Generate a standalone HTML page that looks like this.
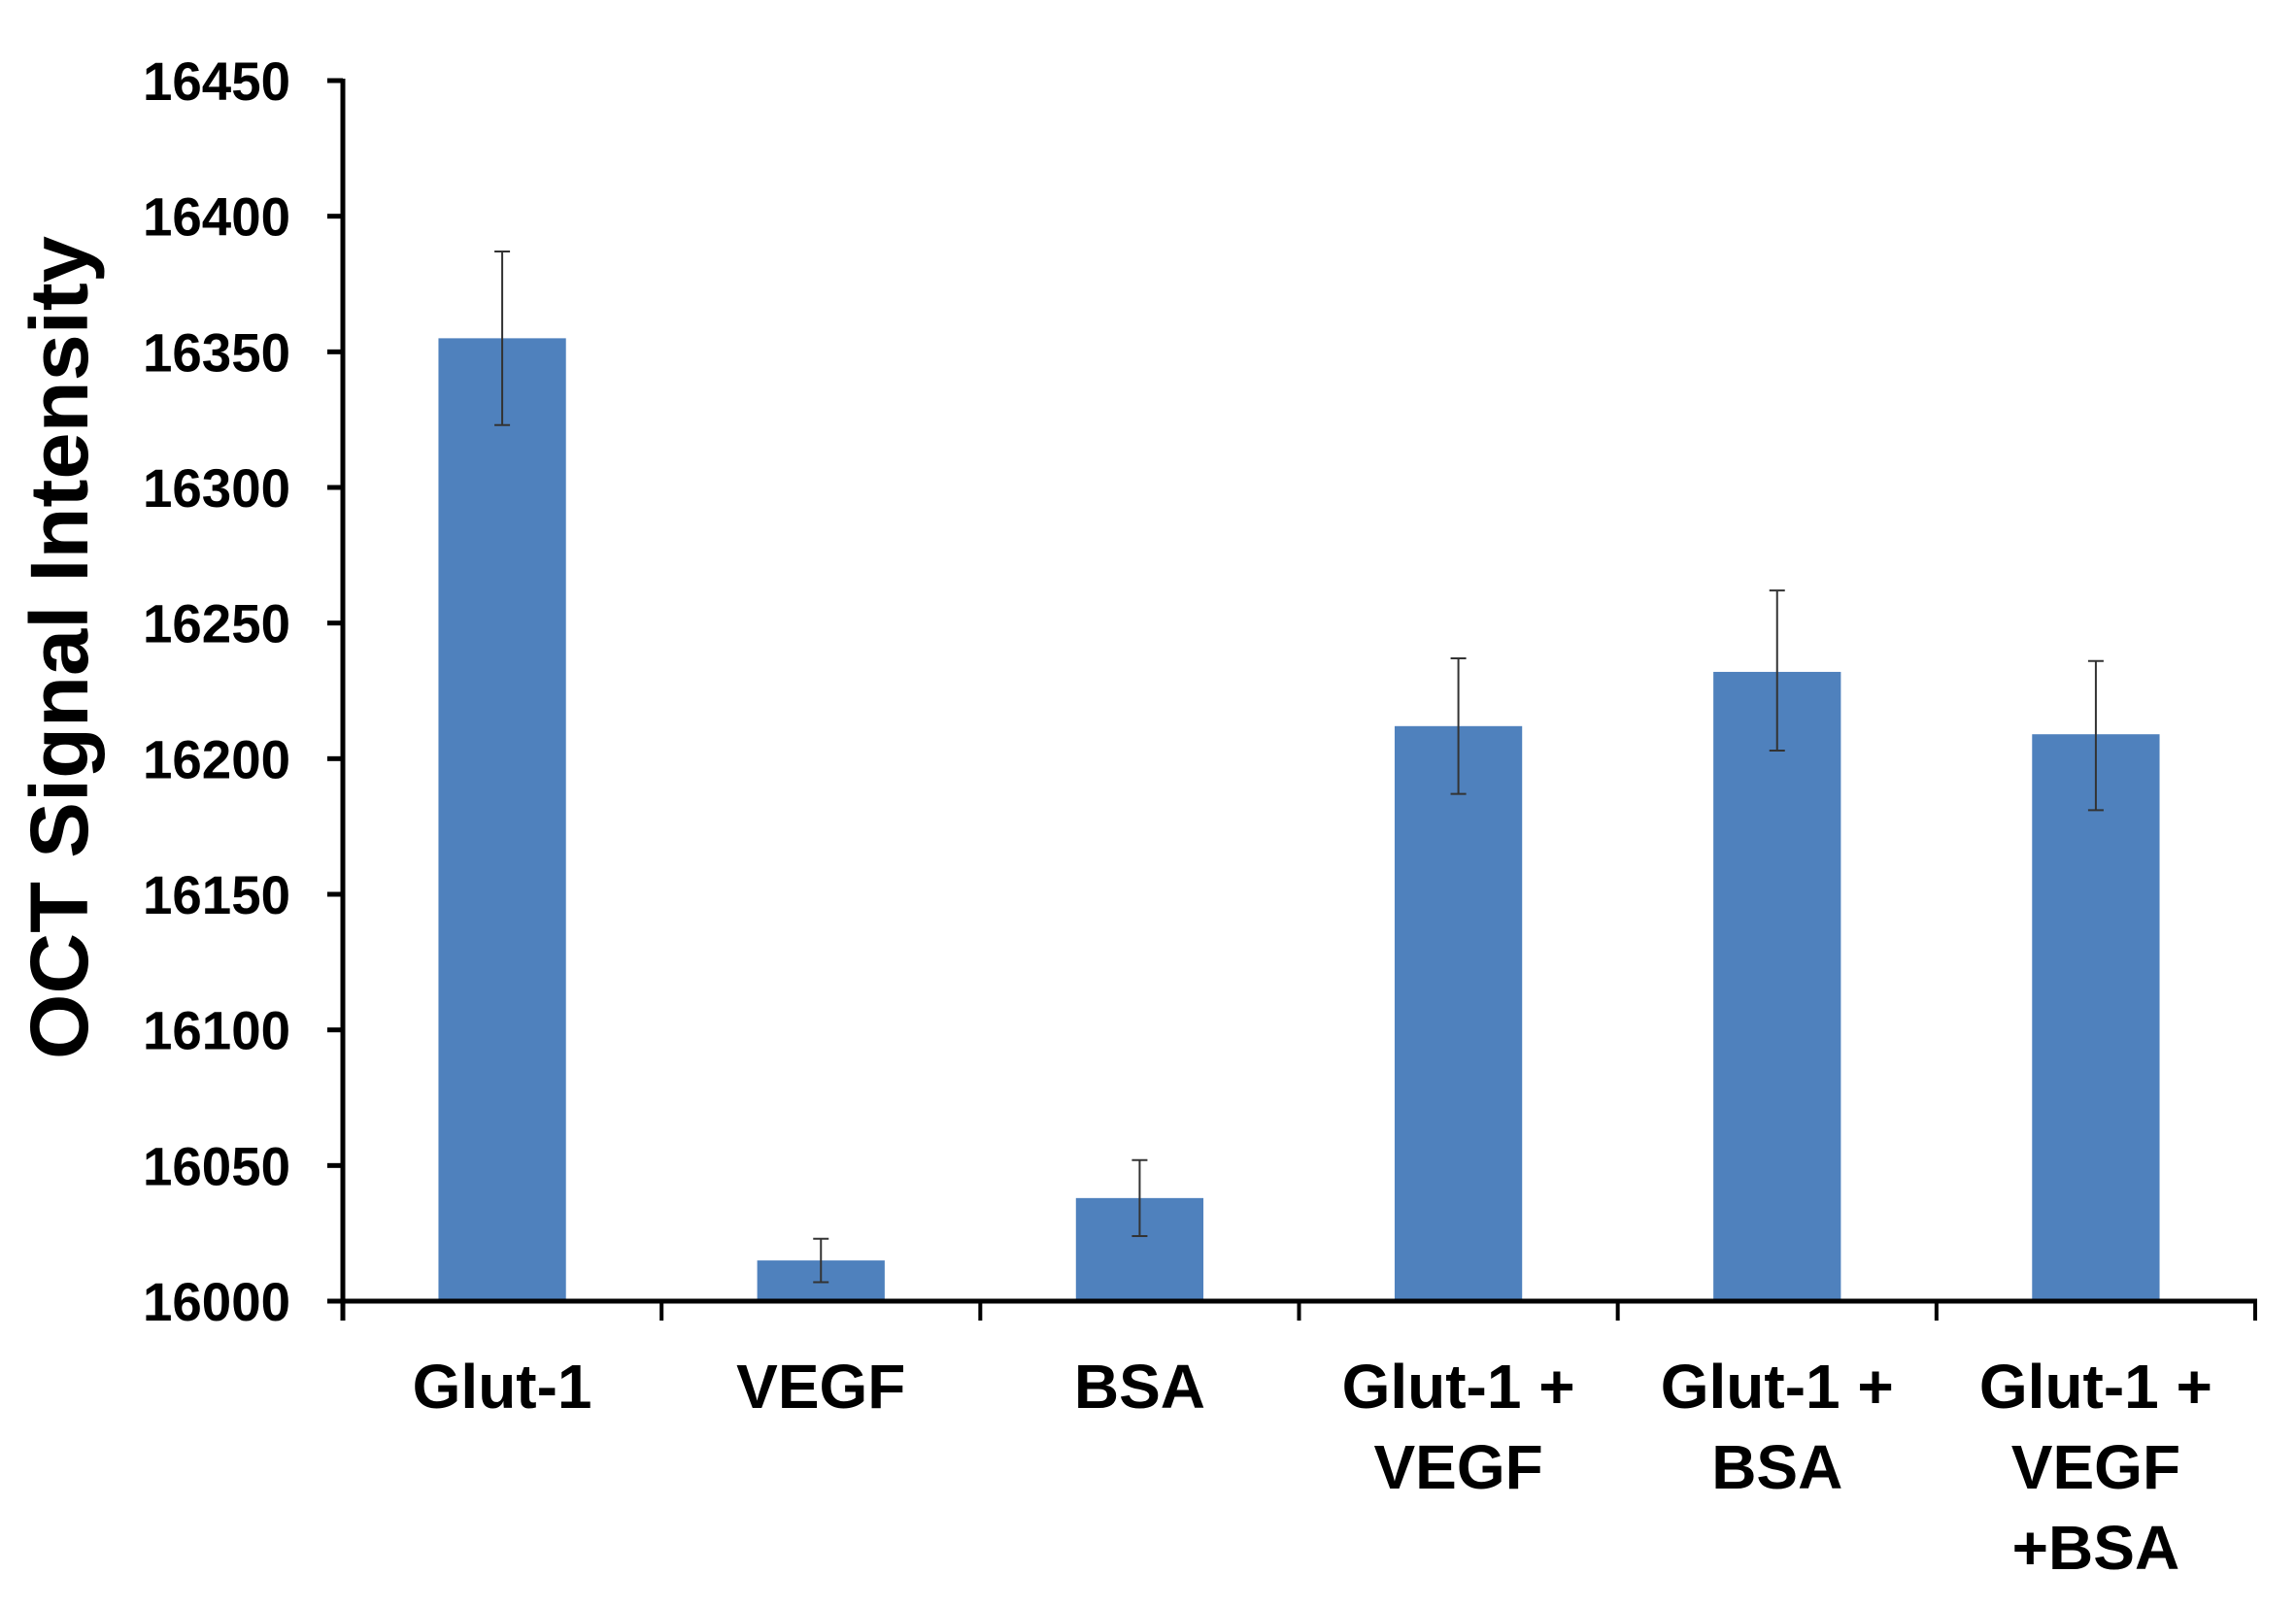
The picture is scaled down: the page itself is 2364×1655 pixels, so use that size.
<!DOCTYPE html>
<html><head><meta charset="utf-8"><style>
html,body{margin:0;padding:0;background:#fff;}
svg{display:block;}
text{font-family:"Liberation Sans",Arial,sans-serif;font-weight:bold;fill:#000;}
</style></head><body>
<svg id="chart" width="2364" height="1655" viewBox="0 0 2364 1655" xmlns="http://www.w3.org/2000/svg">
<text transform="translate(90,667) rotate(-90)" text-anchor="middle" font-size="84" textLength="848" lengthAdjust="spacingAndGlyphs">OCT Signal Intensity</text>
<g id="bars"></g>
<g id="errs"></g>
<g id="axes"></g>
<g id="labels"></g>
</svg>
<script>
const categories = [["Glut-1"],["VEGF"],["BSA"],["Glut-1 +","VEGF"],["Glut-1 +","BSA"],["Glut-1 +","VEGF","+BSA"]];
const values = [16355, 16015, 16038, 16212, 16232, 16209];
const errHigh = [16387, 16023, 16052, 16237, 16262, 16236];
const errLow = [16323, 16007, 16024, 16187, 16203, 16181];
const yTicks = [16000, 16050, 16100, 16150, 16200, 16250, 16300, 16350, 16400, 16450];

const NS = "http://www.w3.org/2000/svg";
const X0 = 353, X1 = 2322, Y0 = 1340, Y1 = 83, YMIN = 16000, YMAX = 16450;
const band = (X1 - X0) / categories.length;
function y(v){ return Y0 - (v - YMIN) / (YMAX - YMIN) * (Y0 - Y1); }
function xc(i){ return X0 + band * (i + 0.5); }
function mk(tag, attrs, parent){ const e=document.createElementNS(NS,tag); for(const k in attrs) e.setAttribute(k,attrs[k]); parent.appendChild(e); return e; }

const gB = document.getElementById('bars'), gE = document.getElementById('errs'), gA = document.getElementById('axes'), gL = document.getElementById('labels');
const bw = band * 0.4;
values.forEach((v,i)=>{
  const r = mk('rect',{x:xc(i)-bw/2,y:y(v),width:bw,height:Y0-y(v),fill:'#4f81bd'},gB);
  
  
  const g = mk('g',{stroke:'#333','stroke-width':2},gE);
  
  
  mk('line',{x1:xc(i),x2:xc(i),y1:y(errHigh[i]),y2:y(errLow[i])},g);
  mk('line',{x1:xc(i)-8,x2:xc(i)+8,y1:y(errHigh[i]),y2:y(errHigh[i])},g);
  mk('line',{x1:xc(i)-8,x2:xc(i)+8,y1:y(errLow[i]),y2:y(errLow[i])},g);
  categories[i].forEach((ln,j)=>{
    const t = mk('text',{x:xc(i),y:1450+j*83,'text-anchor':'middle','font-size':64},gL);
    t.textContent = ln;
    
    
  });
});
const ya = mk('line',{x1:X0,x2:X0,y1:Y1-2,y2:Y0+20,stroke:'#000','stroke-width':5},gA);


const xa = mk('line',{x1:X0-16,x2:X1+2,y1:Y0,y2:Y0,stroke:'#000','stroke-width':5},gA);


yTicks.forEach(v=>{
  mk('line',{x1:X0-16,x2:X0,y1:y(v),y2:y(v),stroke:'#000','stroke-width':5},gA);
  const t = mk('text',{x:X0-54,y:y(v)+20,'text-anchor':'end','font-size':56,textLength:152,lengthAdjust:'spacingAndGlyphs'},gL);
  t.textContent = v;
  
  
});
for(let i=0;i<=categories.length;i++){
  mk('line',{x1:X0+band*i,x2:X0+band*i,y1:Y0,y2:Y0+20,stroke:'#000','stroke-width':4},gA);
}
</script>
</body></html>
